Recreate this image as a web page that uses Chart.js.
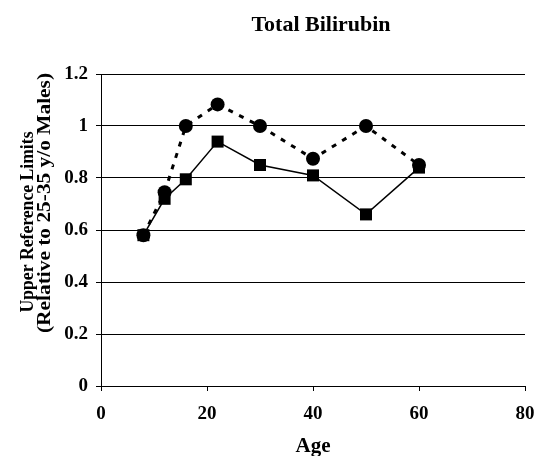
<!DOCTYPE html>
<html>
<head>
<meta charset="utf-8">
<script src="https://cdn.jsdelivr.net/npm/chart.js@4/dist/chart.umd.min.js"></script>
<style>
  html, body { margin: 0; padding: 0; background: #fff; overflow: hidden; }
  canvas { display: block; }
</style>
</head>
<body>
<canvas id="chart" width="536" height="456"></canvas>
<script>
// Ages (x) and upper reference limits (relative to 25-35 y/o males)
const ages = [8, 12, 16, 22, 30, 40, 50, 60];
const circleSeries = [0.58, 0.745, 1.0, 1.083, 1.0, 0.874, 1.0, 0.85];
const squareSeries = [0.58, 0.72, 0.795, 0.94, 0.85, 0.81, 0.66, 0.84];
const yTicks = [0, 0.2, 0.4, 0.6, 0.8, 1, 1.2];
const xTicks = [0, 20, 40, 60, 80];
const yTitleLines = ['Upper Reference Limits', '(Relative to 25-35 y/o Males)'];

const serif = '"Liberation Serif", "DejaVu Serif", serif';

function points(values) {
    return ages.map((a, i) => ({ x: a, y: values[i] }));
}

// Chart title and the two-line y axis title
const textPlugin = {
    id: 'extraText',
    afterDraw(chart) {
        const ctx = chart.ctx;
        ctx.save();
        ctx.fillStyle = '#000';
        ctx.textAlign = 'center';
        ctx.textBaseline = 'middle';
        ctx.font = 'bold 22px ' + serif;
        ctx.fillText('Total Bilirubin', 321, 25);

        // each line: centre x, centre y, length along the axis
        ctx.font = 'bold 18px ' + serif;
        const spots = [[28, 222, 181], [45, 203, 260]];
        yTitleLines.forEach((line, i) => {
            const [cx, cy, len] = spots[i];
            const w = ctx.measureText(line).width;
            ctx.save();
            ctx.translate(cx, cy);
            ctx.rotate(-Math.PI / 2);
            ctx.scale(len / w, 1);
            ctx.fillText(line, 0, 0);
            ctx.restore();
        });
        ctx.restore();
    }
};

new Chart(document.getElementById('chart'), {
    type: 'line',
    data: {
        datasets: [{
            label: 'Series 2',
            data: points(squareSeries),
            borderColor: '#000',
            backgroundColor: '#000',
            borderWidth: 1.5,
            pointStyle: 'rect',
            pointRadius: 8.5,
            pointBorderWidth: 0,
            tension: 0,
            order: 2
        }, {
            label: 'Series 1',
            data: points(circleSeries),
            borderColor: '#000',
            backgroundColor: '#000',
            borderWidth: 3,
            borderDash: [5, 7],
            pointStyle: 'circle',
            pointRadius: 7,
            pointBorderWidth: 0,
            tension: 0,
            order: 1
        }]
    },
    options: {
        responsive: false,
        animation: false,
        layout: { padding: { top: 74, right: 11, left: 0, bottom: 0 } },
        plugins: {
            legend: { display: false },
            tooltip: { enabled: false }
        },
        scales: {
            x: {
                type: 'linear',
                min: 0,
                max: 80,
                afterBuildTicks(scale) {
                    scale.ticks = xTicks.map(v => ({ value: v }));
                },
                afterFit(scale) {
                    scale.height = 70;
                    scale.paddingLeft = 0;
                    scale.paddingRight = 0;
                },
                border: { display: true, color: '#000', width: 1 },
                grid: {
                    drawOnChartArea: false,
                    drawTicks: true,
                    tickLength: 5,
                    color: '#000'
                },
                ticks: {
                    color: '#000',
                    padding: 12,
                    maxRotation: 0,
                    font: { family: serif, size: 19, weight: 'bold' }
                },
                title: {
                    display: true,
                    text: 'Age',
                    color: '#000',
                    padding: { top: 10, bottom: 0 },
                    font: { family: serif, size: 21, weight: 'bold', lineHeight: 0.9 }
                }
            },
            y: {
                min: 0,
                max: 1.2,
                afterBuildTicks(scale) {
                    scale.ticks = yTicks.map(v => ({ value: v }));
                },
                afterFit(scale) { scale.width = 101; },
                border: { display: true, color: '#000', width: 1 },
                grid: {
                    color: '#000',
                    lineWidth: 1,
                    drawTicks: true,
                    tickLength: 5
                },
                ticks: {
                    color: '#000',
                    padding: 8,
                    font: { family: serif, size: 19, weight: 'bold' },
                    callback: v => String(Math.round(v * 10) / 10)
                }
            }
        }
    },
    plugins: [textPlugin]
});
</script>
</body>
</html>
